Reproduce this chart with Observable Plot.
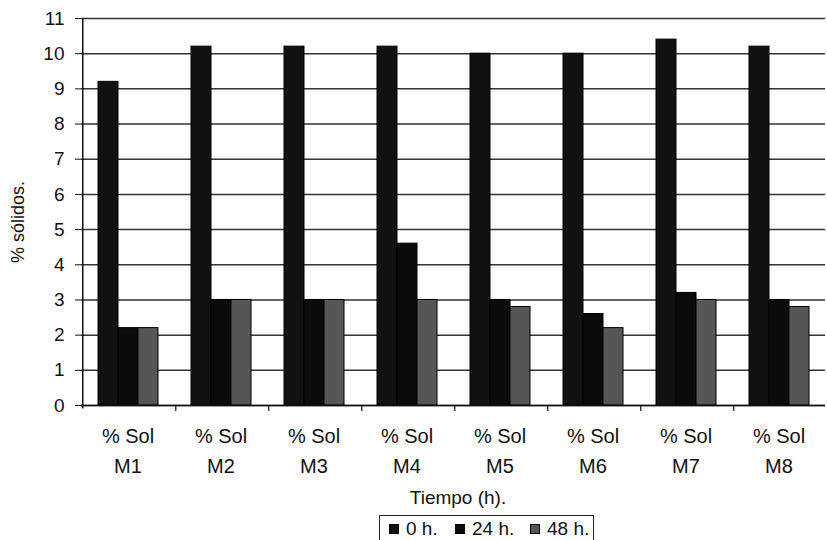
<!DOCTYPE html>
<html><head><meta charset="utf-8">
<script src="https://cdn.jsdelivr.net/npm/d3@7"></script>
<script src="https://cdn.jsdelivr.net/npm/@observablehq/plot@0.6"></script>
<style>
body{margin:0;background:#fff;font-family:"Liberation Sans",Arial,sans-serif;}
#wrap{position:relative;width:827px;height:540px;overflow:hidden;}
#title{position:absolute;left:358px;top:487px;width:200px;text-align:center;font-size:19px;color:#111;}
#ylabel{position:absolute;left:18px;top:222px;transform:translate(-50%,-50%) rotate(-90deg);font-size:18px;color:#111;white-space:nowrap;}
#legend{position:absolute;left:379px;top:515px;width:213px;height:30px;border:1px solid #222;font-size:19px;color:#111;}
#legend .it{position:absolute;top:2px;display:flex;align-items:center;}
#legend .sw{width:8px;height:8px;border:1px solid #000;margin-right:7px;}
</style>
</head><body>
<div id="wrap"><div id="chart"></div><div id="ylabel">% sólidos.</div><div id="title">Tiempo (h).</div><div id="legend"></div></div>
<script>
const categories = ["M1","M2","M3","M4","M5","M6","M7","M8"];
const tickLabels = ["% Sol\nM1","% Sol\nM2","% Sol\nM3","% Sol\nM4","% Sol\nM5","% Sol\nM6","% Sol\nM7","% Sol\nM8"];
const series = ["0 h.","24 h.","48 h."];
const values0h = [9.2,10.2,10.2,10.2,10.0,10.0,10.4,10.2];
const values24h = [2.2,3.0,3.0,4.6,3.0,2.6,3.2,3.0];
const values48h = [2.2,3.0,3.0,3.0,2.8,2.2,3.0,2.8];
const yTicks = d3.range(0, 12);
const colors = ["#111111","#0b0b0b","#565656"];

const data = [];
categories.forEach((c, i) => {
  data.push({cat: c, serie: series[0], value: values0h[i]});
  data.push({cat: c, serie: series[1], value: values24h[i]});
  data.push({cat: c, serie: series[2], value: values48h[i]});
});
const labelRows = categories.map((c, i) => ({cat: c, label: tickLabels[i]}));

const W = 827, ML = 78, MR = 0;
const padOuter = 0.72;
const facetW = (W - ML - MR) / categories.length;
const step = facetW / (series.length + 2 * padOuter);
const edgeDx = -(padOuter + 0.5) * step; // from first band centre to facet left edge

const chart = Plot.plot({
  width: W,
  height: 482,
  marginLeft: ML,
  marginRight: MR,
  marginTop: 18,
  marginBottom: 77,
  style: {fontFamily: "Liberation Sans, Arial, sans-serif", fontSize: "19px", color: "#111", background: "#fff"},
  fx: {domain: categories, padding: 0, axis: null},
  x: {domain: series, paddingInner: 0, paddingOuter: padOuter, axis: null},
  y: {domain: [0, 11], ticks: yTicks, tickSize: 6, tickPadding: 11, label: null},
  color: {domain: series, range: colors},
  marks: [
    Plot.ruleY(yTicks, {stroke: "#333", strokeWidth: 1.5}),
    Plot.barY(data, {fx: "cat", x: "serie", y: "value", fill: "serie", stroke: "#000", strokeWidth: 1}),
    Plot.ruleY([0], {stroke: "#111", strokeWidth: 1.5}),
    Plot.ruleX([categories[0]], {fx: d => d, x: () => series[0], y1: -0.1, y2: 11, dx: edgeDx, stroke: "#111", strokeWidth: 1.5}),
    Plot.ruleX(categories.slice(1), {fx: d => d, x: () => series[0], y1: 0, y2: -0.17, dx: edgeDx, stroke: "#111", strokeWidth: 1.2}),
    Plot.text(labelRows, {fx: "cat", text: "label", frameAnchor: "bottom", dy: 67, lineHeight: 1.5, fontSize: 20, fill: "#111"})
  ]
});
document.getElementById("chart").appendChild(chart);

const legend = document.getElementById("legend");
const itemLefts = [9, 75, 150];
series.forEach((s, i) => {
  const it = document.createElement("div");
  it.className = "it";
  it.style.left = itemLefts[i] + "px";
  const sw = document.createElement("div");
  sw.className = "sw";
  sw.style.background = colors[i];
  const t = document.createElement("span");
  t.textContent = s;
  it.appendChild(sw); it.appendChild(t);
  legend.appendChild(it);
});
</script>
</body></html>
